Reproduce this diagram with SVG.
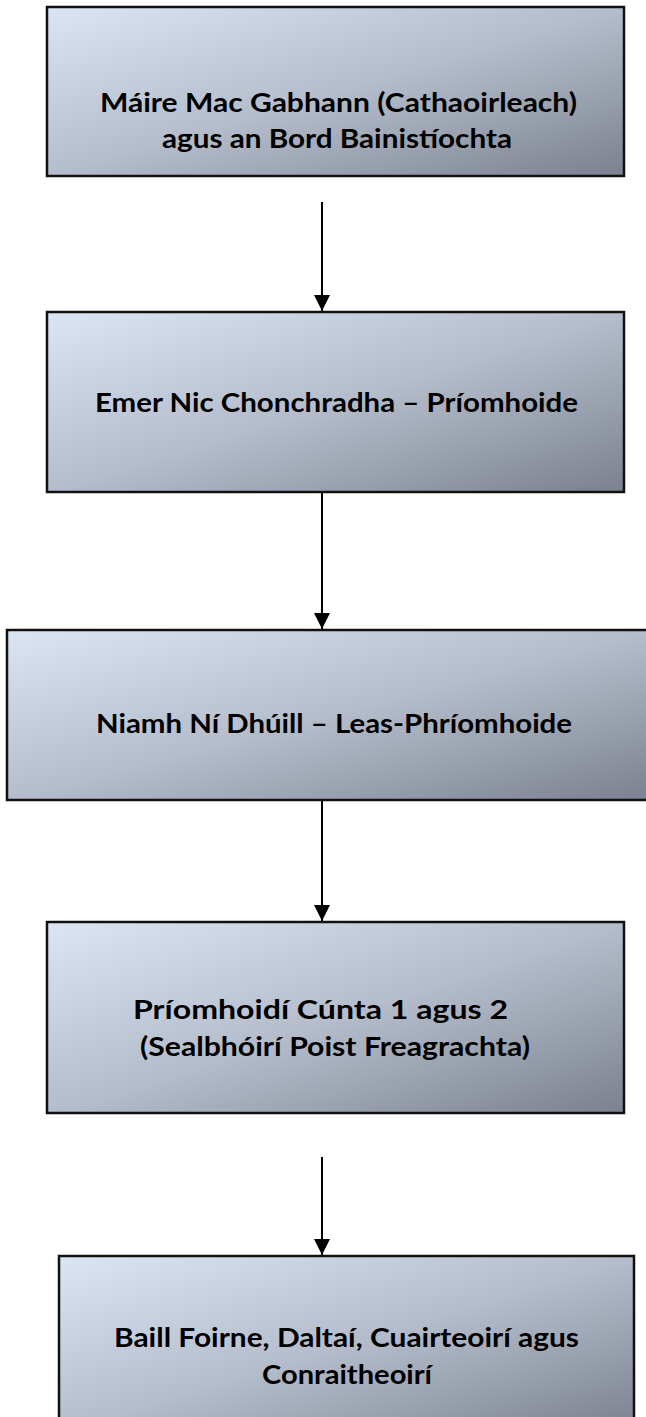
<svg xmlns="http://www.w3.org/2000/svg" width="646" height="1417" viewBox="0 0 646 1417">
<style>
.box{fill:url(#g);stroke:#111;stroke-width:2.5}
.t{font-family:Lato,"Open Sans","Liberation Sans",sans-serif;font-weight:bold;font-size:27.5px;fill:#000}
.c{stroke:#000;stroke-width:2;fill:none;marker-end:url(#ah)}
</style>
<defs>
<linearGradient id="g" x1="0" y1="0" x2="1" y2="1">
<stop offset="0" stop-color="#dbe5f5"/>
<stop offset="0.5" stop-color="#b5bdcc"/>
<stop offset="1" stop-color="#7b818e"/>
</linearGradient>
<marker id="ah" markerWidth="16" markerHeight="16" viewBox="0 0 16 16" refX="16" refY="8" orient="auto" markerUnits="userSpaceOnUse">
<path d="M0,0 L16,8 L0,16 Z" fill="#000"/>
</marker>
</defs>
<g id="connectors">
<line class="c" x1="322" y1="202" x2="322" y2="311"/>
<line class="c" x1="322" y1="492" x2="322" y2="629"/>
<line class="c" x1="322" y1="800" x2="322" y2="921"/>
<line class="c" x1="322" y1="1157" x2="322" y2="1255"/>
</g>
<g id="n1">
<rect class="box" x="47" y="7" width="577" height="169"/>
<text class="t" x="100" y="112" textLength="477" lengthAdjust="spacingAndGlyphs">Máire Mac Gabhann (Cathaoirleach)</text>
<text class="t" x="162" y="148" textLength="350" lengthAdjust="spacingAndGlyphs">agus an Bord Bainistíochta</text>
</g>
<g id="n2">
<rect class="box" x="47" y="312" width="577" height="180"/>
<text class="t" x="95" y="412" textLength="483" lengthAdjust="spacingAndGlyphs">Emer Nic Chonchradha – Príomhoide</text>
</g>
<g id="n3">
<rect class="box" x="7" y="630" width="645" height="170"/>
<text class="t" x="96" y="733" textLength="476" lengthAdjust="spacingAndGlyphs">Niamh Ní Dhúill – Leas-Phríomhoide</text>
</g>
<g id="n4">
<rect class="box" x="47" y="922" width="577" height="191"/>
<text class="t" x="133" y="1019" textLength="375" lengthAdjust="spacingAndGlyphs">Príomhoidí Cúnta 1 agus 2</text>
<text class="t" x="140" y="1056" textLength="390" lengthAdjust="spacingAndGlyphs">(Sealbhóirí Poist Freagrachta)</text>
</g>
<g id="n5">
<rect class="box" x="59" y="1256" width="575" height="175"/>
<text class="t" x="114" y="1347" textLength="465" lengthAdjust="spacingAndGlyphs">Baill Foirne, Daltaí, Cuairteoirí agus</text>
<text class="t" x="262" y="1384" textLength="170" lengthAdjust="spacingAndGlyphs">Conraitheoirí</text>
</g>
</svg>
